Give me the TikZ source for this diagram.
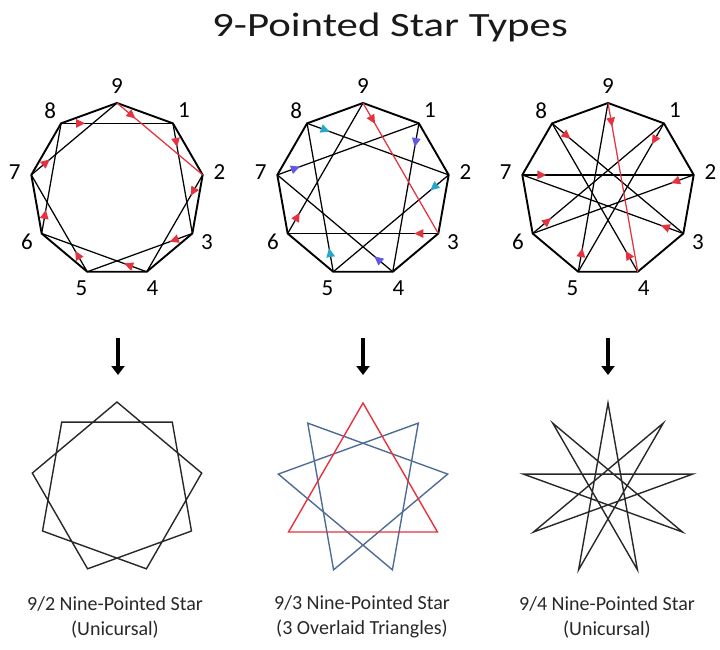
\documentclass[tikz,border=0pt]{standalone}
\usepackage{fontspec}
\setmainfont{Carlito}
\newfontfamily\titlefont[FakeStretch=1.26]{Carlito}
\usetikzlibrary{arrows.meta, decorations.markings}

\definecolor{starred}{RGB}{228,50,62}
\definecolor{starpurple}{RGB}{98,88,228}
\definecolor{starcyan}{RGB}{38,168,204}
\definecolor{starblue}{RGB}{78,108,150}
\definecolor{stargray}{RGB}{40,40,40}

\tikzset{
  rim/.style={line width=1.9pt, line join=round},
  chord/.style={line width=1.25pt},
  tip/.style={postaction={decorate}, decoration={markings,
      mark=at position 24pt with {\arrow[color=#1]{Triangle[length=9pt,width=8.5pt]}}}},
  numlabel/.style={font=\fontsize{23}{23}\selectfont},
  starline/.style={line width=1.4pt, line join=miter},
  caption/.style={font=\fontsize{20}{25}\selectfont, align=center, text=stargray},
  downarrow/.style={line width=3.2pt, -{Triangle[length=9pt,width=13pt]}},
}

\begin{document}
\begin{tikzpicture}[x=1pt, y=-1pt]
\useasboundingbox (0,0) rectangle (720,649);

\node[font=\titlefont\fontsize{34}{34}\selectfont, text=black!90] (title) at (390,27) {9-Pointed Star Types};

% 9/2 circuit
\begin{scope}[shift={(117,190)}]
  \foreach \k in {1,...,9} {
    \coordinate (a\k) at (40*\k-90:87);
    \node[numlabel] (la\k) at (40*\k-90:104) {\k};
  }
  \draw[rim] (a1)--(a2)--(a3)--(a4)--(a5)--(a6)--(a7)--(a8)--(a9)--cycle;
  \foreach \s/\e in {2/4,4/6,6/8,8/1,1/3,3/5,5/7,7/9}
    \draw[chord, tip=starred] (a\s) -- (a\e);
  \draw[chord, starred, tip=starred] (a9) -- (a2);
\end{scope}

% 9/3 circuit
\begin{scope}[shift={(363,190)}]
  \foreach \k in {1,...,9} {
    \coordinate (b\k) at (40*\k-90:87);
    \node[numlabel] (lb\k) at (40*\k-90:104) {\k};
  }
  \draw[rim] (b1)--(b2)--(b3)--(b4)--(b5)--(b6)--(b7)--(b8)--(b9)--cycle;
  \foreach \s/\e in {3/6,6/9}
    \draw[chord, tip=starred] (b\s) -- (b\e);
  \foreach \s/\e in {1/4,4/7,7/1}
    \draw[chord, tip=starpurple] (b\s) -- (b\e);
  \foreach \s/\e in {2/5,5/8,8/2}
    \draw[chord, tip=starcyan] (b\s) -- (b\e);
  \draw[chord, starred, tip=starred] (b9) -- (b3);
\end{scope}

% 9/4 circuit
\begin{scope}[shift={(608,190)}]
  \foreach \k in {1,...,9} {
    \coordinate (c\k) at (40*\k-90:87);
    \node[numlabel] (lc\k) at (40*\k-90:104) {\k};
  }
  \draw[rim] (c1)--(c2)--(c3)--(c4)--(c5)--(c6)--(c7)--(c8)--(c9)--cycle;
  \foreach \s/\e in {4/8,8/3,3/7,7/2,2/6,6/1,1/5,5/9}
    \draw[chord, tip=starred] (c\s) -- (c\e);
  \draw[chord, starred, tip=starred] (c9) -- (c4);
\end{scope}

% arrows down
\foreach \x/\n in {118/1,363/2,608/3} {
  \coordinate (from\n) at (\x,338);
  \coordinate (to\n) at (\x,375);
  \draw[downarrow] (from\n) -- (to\n);
}

% finished stars
\begin{scope}[shift={(117,488)}]
  \foreach \k in {1,...,9}
    \coordinate (p\k) at (40*\k-90:86);
  \draw[starline, stargray] (p9)--(p2)--(p4)--(p6)--(p8)--(p1)--(p3)--(p5)--(p7)--cycle;
\end{scope}

\begin{scope}[shift={(363,489)}]
  \foreach \k in {1,...,9}
    \coordinate (q\k) at (40*\k-90:86);
  \draw[starline, starblue] (q1)--(q4)--(q7)--cycle;
  \draw[starline, starblue] (q2)--(q5)--(q8)--cycle;
  \draw[starline, starred] (q9)--(q3)--(q6)--cycle;
\end{scope}

\begin{scope}[shift={(608,489)}]
  \foreach \k in {1,...,9}
    \coordinate (r\k) at (40*\k-90:86);
  \draw[starline, stargray] (r9)--(r4)--(r8)--(r3)--(r7)--(r2)--(r6)--(r1)--(r5)--cycle;
\end{scope}

\node[caption] (cap1) at (115,617) {9/2 Nine-Pointed Star\\(Unicursal)};
\node[caption] (cap2) at (362,617) {9/3 Nine-Pointed Star\\(3 Overlaid Triangles)};
\node[caption] (cap3) at (607,617) {9/4 Nine-Pointed Star\\(Unicursal)};

\end{tikzpicture}
\end{document}
